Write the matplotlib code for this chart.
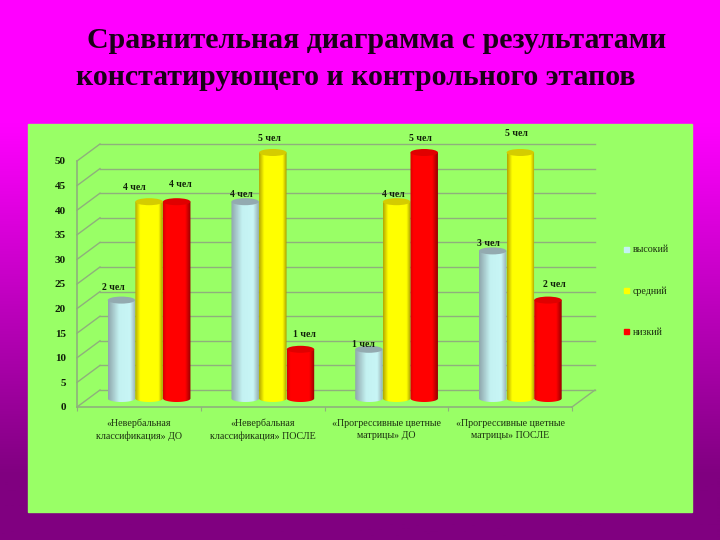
import numpy as np
import matplotlib
matplotlib.use('Agg')
import matplotlib.pyplot as plt
from matplotlib.colors import LinearSegmentedColormap
from matplotlib.lines import Line2D
from matplotlib.patches import Ellipse, PathPatch, Rectangle
from matplotlib.path import Path
from matplotlib.transforms import offset_copy

plt.rcParams['font.family'] = ['Liberation Serif', 'DejaVu Serif']

# data
categories = ['«Невербальная\nклассификация» ДО', '«Невербальная\nклассификация» ПОСЛЕ',
              '«Прогрессивные цветные\nматрицы» ДО', '«Прогрессивные цветные\nматрицы» ПОСЛЕ']
series_names = ['высокий', 'средний', 'низкий']
high = [20, 40, 10, 30]
medium = [40, 50, 40, 50]
low = [40, 10, 50, 20]
high_labels = ['2 чел', '4 чел', '1 чел', '3 чел']
medium_labels = ['4 чел', '5 чел', '4 чел', '5 чел']
low_labels = ['4 чел', '1 чел', '5 чел', '2 чел']
y_ticks = list(range(0, 55, 5))

# style, one entry per series: dark edge, bright middle, dark edge, top cap
ramps = [['#8fa6ac', '#c4f2f2', '#c8f6f6', '#98aeb0'],
         ['#b5a800', '#ffff00', '#ffff00', '#a89c00'],
         ['#d80000', '#ff0000', '#ff0000', '#960000']]
ramp_stops = [(0, 0.4, 0.8, 1), (0, 0.18, 0.85, 1), (0, 0.12, 0.8, 1)]
caps = ['#93aab0', '#d4cc00', '#e00000']
# label offsets from the top of each bar, pixels
label_shift = [[(-8, 13), (-4, 7), (-5, 5), (-4, 7)],
               [(-15, 14), (-3, 14), (-3, 7), (-4, 19)],
               [(4, 17), (4, 15), (-4, 14), (6, 16)]]

fig = plt.figure(figsize=(7.2, 5.4), dpi=100)

bg = fig.add_axes([0, 0, 1, 1])
bg_cmap = LinearSegmentedColormap.from_list('bg', [(0, '#ff00ff'), (0.23, '#ff00ff'), (0.88, '#800080'), (1, '#800080')])
bg.imshow(np.linspace(0, 1, 256).reshape(-1, 1), cmap=bg_cmap, aspect='auto', extent=[0, 1, 0, 1])
bg.add_patch(Rectangle((28 / 720, 1 - 512 / 540), 664 / 720, 388 / 540, color='#99ff66', transform=bg.transAxes))
bg.axis('off')

bg.text(87 / 720, 1 - 41 / 540, 'Сравнительная диаграмма с результатами', transform=bg.transAxes,
        ha='left', va='center', fontsize=21.5, fontweight='bold', color='#1a0018')
bg.text(76 / 720, 1 - 78 / 540, 'констатирующего и контрольного этапов', transform=bg.transAxes,
        ha='left', va='center', fontsize=21.5, fontweight='bold', color='#1a0018')

ax = fig.add_axes([77 / 720, 1 - 407 / 540, 495 / 720, 246 / 540])
ax.set_xlim(0, 4)
ax.set_ylim(0, 50)
ax.patch.set_alpha(0)
for s in ax.spines.values():
    s.set_visible(False)

grid_col = '#8fb07c'
back = offset_copy(ax.transData, fig=fig, x=23, y=17, units='dots')
mid = offset_copy(ax.transData, fig=fig, x=10.5, y=8.5, units='dots')

# walls of the 3d box
for t in y_ticks:
    ax.plot([0, 4], [t, t], color=grid_col, lw=1, transform=back, clip_on=False, zorder=1)
    p0 = ax.transData.transform((0, t))
    ax.add_line(Line2D([p0[0], p0[0] + 23], [p0[1], p0[1] + 17], color=grid_col, lw=1,
                       transform=None, clip_on=False, zorder=1))
p0 = ax.transData.transform((4, 0))
ax.add_line(Line2D([p0[0], p0[0] + 23], [p0[1], p0[1] + 17], color=grid_col, lw=1,
                   transform=None, clip_on=False, zorder=1))
ax.plot([0, 4], [0, 0], color=grid_col, lw=1.2, clip_on=False, zorder=1)
ax.plot([0, 0], [0, 50], color=grid_col, lw=1.2, clip_on=False, zorder=1)

ax.set_xticks(range(5))
ax.set_xticklabels([])
ax.set_xticks(np.arange(4) + 0.5, categories, minor=True, fontsize=7.2, color='#1c3010', linespacing=1.45)
ax.tick_params(axis='x', which='major', length=3, color=grid_col, direction='out')
ax.tick_params(axis='x', which='minor', length=0, pad=8.5)
ax.set_yticks(y_ticks)
ax.set_yticklabels(y_ticks, fontsize=8, fontweight='bold', color='#102008')
ax.tick_params(axis='y', length=0, pad=8)

bar_w = 27.5 / 124
step = 27.7 / 124
cap_h = 7 / 4.92
first = 34 / 124

theta = np.linspace(np.pi, 2 * np.pi, 40)
for s, (vals, labels) in enumerate(zip([high, medium, low], [high_labels, medium_labels, low_labels])):
    cmap = LinearSegmentedColormap.from_list('c%d' % s, list(zip(ramp_stops[s], ramps[s])))
    for g, v in enumerate(vals):
        cx = g + first + s * step
        x0, x1 = cx - bar_w / 2, cx + bar_w / 2
        im = ax.imshow(np.linspace(0, 1, 64).reshape(1, -1), cmap=cmap, aspect='auto',
                       extent=[x0, x1, -cap_h, v], zorder=3 + s * 0.1, transform=mid)
        arc = np.column_stack([cx + bar_w / 2 * np.cos(theta), cap_h / 2 * np.sin(theta)])
        outline = np.vstack([[[x0, v]], arc, [[x1, v]], [[x0, v]]])
        clip = PathPatch(Path(outline), transform=mid, fc='none', ec='none')
        ax.add_patch(clip)
        im.set_clip_path(clip)
        im.set_clip_box(fig.bbox)
        ax.add_patch(Ellipse((cx, v), bar_w, cap_h, transform=mid, fc=caps[s], ec='none',
                             zorder=3.05 + s * 0.1, clip_on=False))
        dx, dy = label_shift[s][g]
        ax.annotate(labels[g], (cx, v), xycoords=mid, xytext=(dx, dy), textcoords='offset pixels',
                    ha='center', va='center', fontsize=7, fontweight='bold', color='#102008',
                    annotation_clip=False, zorder=5)

ax.set_xlim(0, 4)
ax.set_ylim(0, 50)

handles = [Line2D([], [], ls='none', marker='s', ms=3.6, color=c) for c in ['#c4f2f2', '#ffff00', '#ff0000']]
fig.legend(handles, series_names, loc='center left', bbox_to_anchor=(611 / 720, 1 - 291 / 540), frameon=False,
           fontsize=7.2, labelspacing=3.2, handletextpad=-0.35, labelcolor='#1c3010', borderpad=0)

fig.savefig('out.png', dpi=100)
